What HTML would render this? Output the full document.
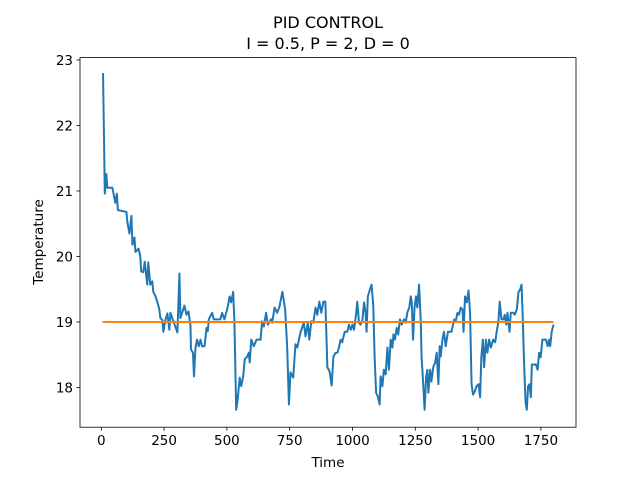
<!DOCTYPE html>
<html><head><meta charset="utf-8"><style>body{margin:0;background:#fff}svg{display:block;font-family:"DejaVu Sans","Liberation Sans",sans-serif}</style></head>
<body>
<svg id="chart" width="640" height="480" xmlns="http://www.w3.org/2000/svg">
<rect width="640" height="480" fill="#fff"/>
<text x="328" y="28" font-size="16" text-anchor="middle">PID CONTROL</text>
<text x="328" y="49" font-size="16" text-anchor="middle">I = 0.5, P = 2, D = 0</text>
<g id="plot"></g>
<text x="328" y="467" font-size="13.5" text-anchor="middle">Time</text>
<text transform="translate(43,242) rotate(-90)" font-size="13.5" text-anchor="middle">Temperature</text>
</svg>
<script>
const times=[7,14,20,24,44,56,62,66,76,100,104,112,120,124,132,136,148,155,159,167,173,183,187,191,195,203,207,215,223,231,235,243,247,255,263,271,275,303,311,315,331,339,347,355,357,365,369,375,381,388,395,401,411,419,424,428,441,448,474,481,490,501,511,517,525,530,537,543,551,557,565,571,581,587,591,597,607,618,634,640,647,656,663,676,680,690,700,709,721,732,740,747,753,764,773,780,793,806,813,822,828,836,844,853,860,868,876,884,892,900,909,917,924,933,940,946,953,959,969,979,986,993,1000,1006,1014,1019,1026,1032,1039,1046,1052,1056,1061,1069,1076,1083,1088,1094,1101,1108,1112,1119,1125,1132,1139,1145,1152,1159,1163,1169,1176,1182,1189,1196,1205,1212,1218,1226,1232,1236,1241,1247,1253,1258,1265,1272,1275,1282,1287,1293,1298,1302,1309,1314,1322,1329,1335,1342,1347,1351,1358,1364,1371,1380,1394,1405,1411,1418,1424,1431,1438,1442,1448,1455,1462,1468,1474,1480,1487,1494,1502,1508,1513,1519,1524,1531,1537,1544,1551,1560,1568,1574,1581,1586,1593,1601,1606,1612,1617,1625,1630,1641,1646,1654,1661,1667,1673,1678,1683,1689,1694,1699,1705,1710,1714,1730,1737,1743,1749,1756,1770,1777,1783,1787,1793,1800];
const temps=[22.80,20.96,21.26,21.05,21.05,20.82,20.96,20.71,20.70,20.68,20.52,20.35,20.62,20.18,20.29,20.07,20.12,20.01,19.77,19.76,19.92,19.57,19.91,19.74,19.57,19.62,19.46,19.40,19.31,19.19,19.06,19.03,18.85,19.03,19.13,18.88,19.14,18.84,19.74,19.06,19.25,19.11,19.16,18.95,18.58,18.53,18.17,18.61,18.73,18.63,18.73,18.63,18.63,18.91,18.86,19.04,19.14,19.04,19.04,19.14,19.04,19.19,19.39,19.30,19.46,18.99,17.66,17.82,18.15,18.02,18.17,18.43,18.47,18.53,18.38,18.73,18.63,18.73,18.73,19.01,18.93,19.14,18.96,19.04,18.99,19.22,19.14,19.23,19.46,19.19,18.61,17.74,18.23,18.15,18.66,18.61,18.84,18.99,18.78,18.99,18.73,19.01,18.99,19.22,19.11,19.31,19.14,19.31,19.31,18.31,18.24,18.03,18.47,18.53,18.53,18.61,18.73,18.69,18.85,18.85,18.96,18.88,18.96,18.88,19.11,19.31,18.99,18.96,19.01,19.30,19.14,18.85,19.39,19.49,19.57,19.23,18.47,17.92,17.86,17.74,18.17,18.02,18.27,18.20,18.61,18.27,18.73,18.61,18.81,18.73,18.91,18.81,19.04,18.96,19.04,18.99,19.14,19.22,19.39,19.30,18.73,19.22,19.39,19.22,19.57,18.99,18.47,18.02,17.66,18.15,18.27,17.92,18.27,18.09,18.32,18.38,18.53,18.05,18.63,18.47,18.73,18.85,18.63,18.85,18.85,19.04,19.01,19.14,19.11,19.22,19.19,18.85,19.39,19.30,19.48,19.14,18.05,17.89,17.94,18.02,18.05,17.85,18.47,18.73,18.31,18.73,18.53,18.73,18.61,18.73,18.69,18.85,19.01,19.31,19.04,19.04,19.11,18.96,19.14,18.85,19.14,19.14,19.11,19.19,19.46,19.49,19.57,19.04,18.38,17.77,17.66,18.02,18.05,17.85,18.35,18.35,18.27,18.53,18.46,18.73,18.73,18.63,18.73,18.63,18.85,18.96,18.85];
const setpointTimes=[5,1800];
const setpointValues=[19,19];
const xTicks=[0,250,500,750,1000,1250,1500,1750];
const yTicks=[18,19,20,21,22,23];

const L=80,R=576,T=57.6,B=427.2;
const xMin=-84.75,xMax=1889.75,yMin=17.393,yMax=23.037;
const X=v=>L+(v-xMin)/(xMax-xMin)*(R-L);
const Y=v=>B-(v-yMin)/(yMax-yMin)*(B-T);
const NS="http://www.w3.org/2000/svg";
const g=document.getElementById('plot');
function mk(tag,at){const e=document.createElementNS(NS,tag);for(const k in at)e.setAttribute(k,at[k]);g.appendChild(e);return e;}

xTicks.forEach(t=>{
  const x=X(t);
  const tk=mk('line',{x1:x,x2:x,y1:B,y2:B+3.5,stroke:'#000','stroke-width':0.8});
  
  
  const tx=mk('text',{x:x,y:B+18,'font-size':13.5,'text-anchor':'middle'});
  tx.textContent=t;
  
  
});
yTicks.forEach(t=>{
  const y=Y(t);
  const tk=mk('line',{x1:L-3.5,x2:L,y1:y,y2:y,stroke:'#000','stroke-width':0.8});
  
  
  const tx=mk('text',{x:L-7,y:y+5,'font-size':13.5,'text-anchor':'end'});
  tx.textContent=t;
  
  
});

const temp=mk('polyline',{points:times.map((t,i)=>X(t)+','+Y(temps[i])).join(' '),fill:'none',stroke:'#1f77b4','stroke-width':2,'stroke-linejoin':'round'});


const sp=mk('polyline',{points:setpointTimes.map((t,i)=>X(t)+','+Y(setpointValues[i])).join(' '),fill:'none',stroke:'#ff7f0e','stroke-width':2});


const fr=mk('rect',{x:L,y:T,width:R-L,height:B-T,fill:'none',stroke:'#000','stroke-width':0.8});


</script>
</body></html>
